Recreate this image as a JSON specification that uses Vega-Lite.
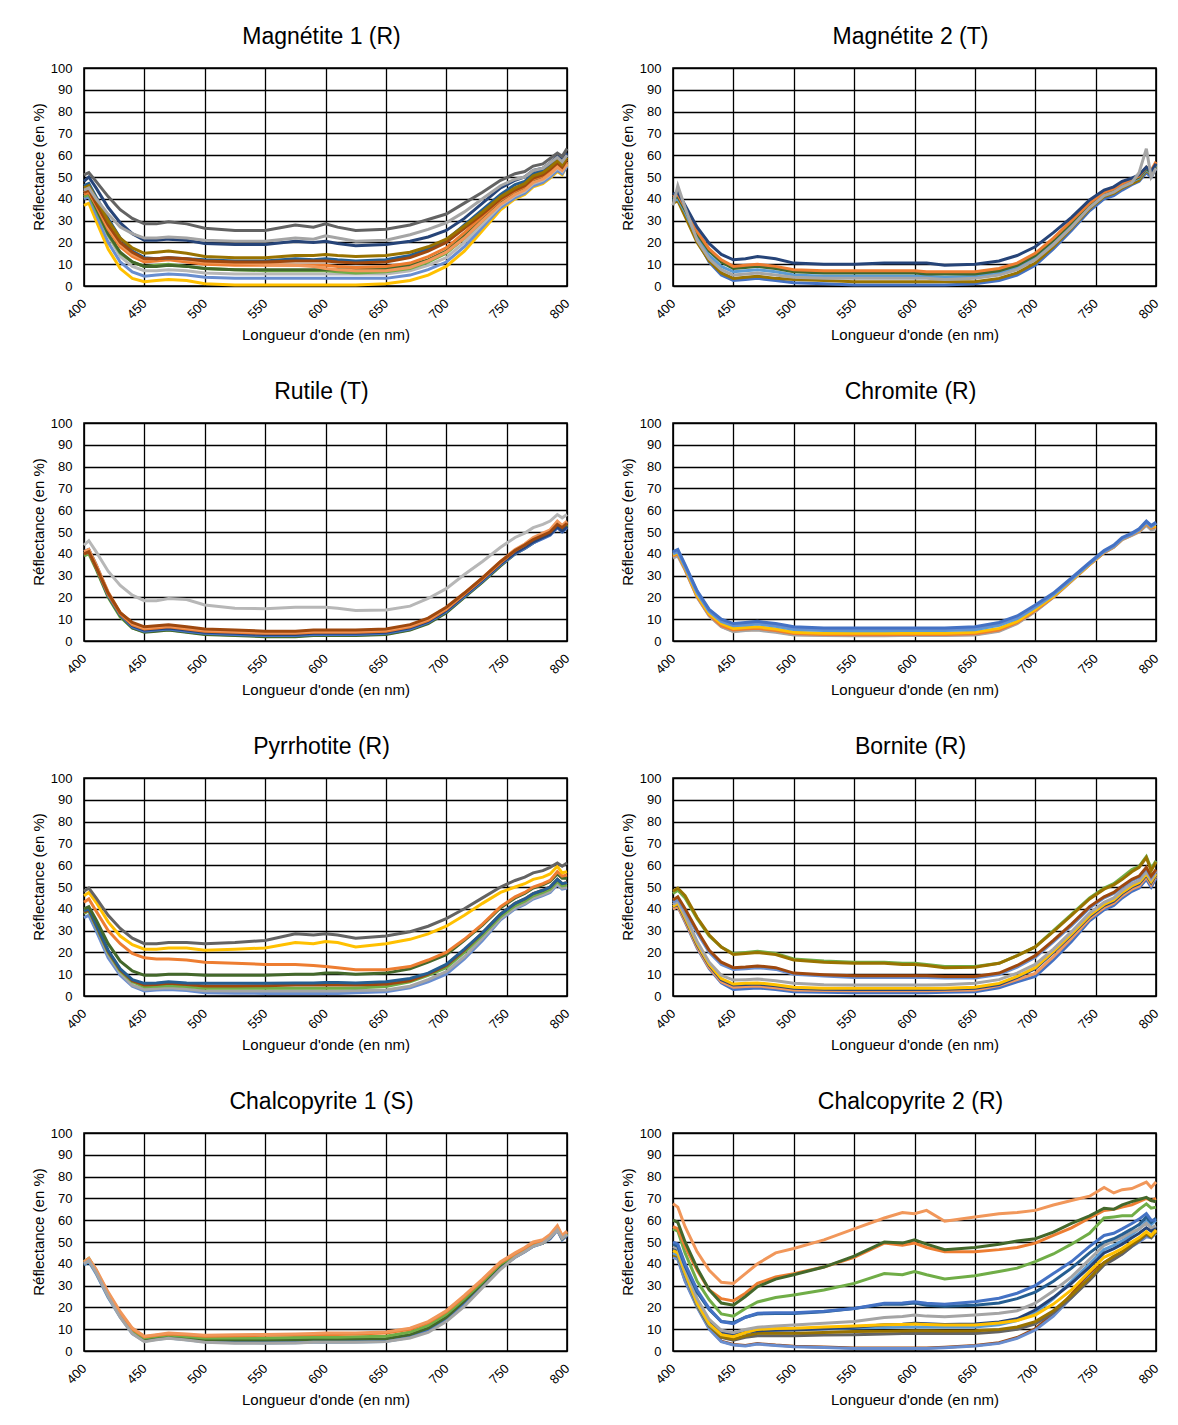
{
  "$schema": "https://vega.github.io/schema/vega-lite/v6.json",
  "background": "white",
  "bounds": "flush",
  "padding": {"left": 30, "top": 25, "right": 16, "bottom": 5},
  "columns": 2,
  "spacing": {"row": 137, "column": 106},
  "config": {
    "font": "Liberation Sans",
    "view": {"continuousWidth": 483, "continuousHeight": 218, "stroke": "#000", "strokeWidth": 1.6},
    "axis": {"grid": true, "gridColor": "#000", "gridWidth": 1.3, "gridOpacity": 1, "domain": false, "ticks": false, "labelFont": "Liberation Sans", "labelFontSize": 13, "labelColor": "#000", "titleFont": "Liberation Sans", "titleFontSize": 15, "titleFontWeight": "normal", "titleColor": "#000", "labelFlush": false, "labelOverlap": false},
    "axisX": {"labelAngle": -45, "labelAlign": "right", "labelBaseline": "middle", "labelPadding": 15, "titlePadding": 6},
    "axisY": {"labelPadding": 12, "titlePadding": 4, "titleY": 98.5},
    "title": {"fontSize": 23, "fontWeight": "normal", "font": "Liberation Sans", "color": "#000", "anchor": "middle", "frame": "group", "offset": 13, "baseline": "alphabetic", "dx": -4},
    "line": {"strokeWidth": 3, "clip": true}
  },
  "datasets": {
    "magnetite1": [
      {"wl":400,"S9":51,"S3":44,"S7":48,"S10":45,"S8":43,"S11":46,"S14":43,"S2":42,"S12":42,"S6":41,"S15":43,"S13":40,"S4":37},
      {"wl":404,"S9":52,"S3":45,"S7":50,"S10":46,"S8":44,"S11":47,"S14":44,"S2":43,"S12":43,"S6":42,"S15":44,"S13":41,"S4":38},
      {"wl":410,"S9":48,"S3":40,"S7":45,"S10":40,"S8":38,"S11":41,"S14":38,"S2":37,"S12":36,"S6":35,"S15":36,"S13":33,"S4":30},
      {"wl":420,"S9":41,"S3":33,"S7":36,"S10":30,"S8":28,"S11":31,"S14":27,"S2":26,"S12":24,"S6":23.5,"S15":23,"S13":20,"S4":17},
      {"wl":430,"S9":35,"S3":27,"S7":29,"S10":22,"S8":20,"S11":22,"S14":19,"S2":18,"S12":15.5,"S6":15,"S15":13.5,"S13":11,"S4":8},
      {"wl":440,"S9":31,"S3":24,"S7":24,"S10":17.5,"S8":15.5,"S11":16,"S14":14.5,"S2":13.5,"S12":11,"S6":11,"S15":9,"S13":6.5,"S4":3.5},
      {"wl":450,"S9":28.5,"S3":22,"S7":21,"S10":15,"S8":12.5,"S11":13,"S14":12,"S2":11,"S12":9,"S6":9,"S15":7,"S13":4.5,"S4":2},
      {"wl":460,"S9":28.5,"S3":22,"S7":21,"S10":15.5,"S8":12.5,"S11":12.5,"S14":12.5,"S2":11.5,"S12":9,"S6":9.5,"S15":7,"S13":5,"S4":2.5},
      {"wl":470,"S9":29.5,"S3":22.5,"S7":21.5,"S10":16,"S8":13,"S11":13,"S14":13,"S2":12,"S12":9.5,"S6":10,"S15":7.5,"S13":5.5,"S4":3},
      {"wl":485,"S9":28.5,"S3":22,"S7":21,"S10":15,"S8":12.5,"S11":12.5,"S14":12,"S2":11,"S12":9,"S6":9,"S15":7,"S13":5,"S4":2.5},
      {"wl":500,"S9":26.5,"S3":21,"S7":19.5,"S10":13.5,"S8":11.5,"S11":12,"S14":11,"S2":10,"S12":8,"S6":8,"S15":6,"S13":4,"S4":1},
      {"wl":525,"S9":25.5,"S3":20.5,"S7":19,"S10":13,"S8":11,"S11":11.5,"S14":10.5,"S2":9.5,"S12":7.5,"S6":7.5,"S15":5.5,"S13":3.5,"S4":0.5},
      {"wl":550,"S9":25.5,"S3":20.5,"S7":19,"S10":13,"S8":11,"S11":11.5,"S14":10,"S2":9.5,"S12":7.5,"S6":7,"S15":5.5,"S13":3.5,"S4":0.5},
      {"wl":575,"S9":28,"S3":22,"S7":20.5,"S10":14,"S8":11.5,"S11":12.5,"S14":9.5,"S2":9.5,"S12":7.5,"S6":7,"S15":5.5,"S13":3.5,"S4":0.5},
      {"wl":590,"S9":27,"S3":21.5,"S7":20,"S10":14,"S8":11.5,"S11":12,"S14":9,"S2":9.5,"S12":7.5,"S6":7,"S15":5.5,"S13":3.5,"S4":0.5},
      {"wl":600,"S9":28.5,"S3":23,"S7":20.5,"S10":14.5,"S8":11.5,"S11":12.5,"S14":8,"S2":9.5,"S12":7.5,"S6":7,"S15":5.5,"S13":3.5,"S4":0.5},
      {"wl":610,"S9":27,"S3":22,"S7":19.5,"S10":14,"S8":11,"S11":12,"S14":7.5,"S2":9,"S12":7.5,"S6":6.5,"S15":5.5,"S13":3.5,"S4":0.5},
      {"wl":625,"S9":25.5,"S3":20.5,"S7":18.5,"S10":13.5,"S8":10.5,"S11":11.5,"S14":7,"S2":8.5,"S12":7.5,"S6":6,"S15":5.5,"S13":3.5,"S4":0.5},
      {"wl":650,"S9":26,"S3":21,"S7":19,"S10":14,"S8":11,"S11":12,"S14":7,"S2":9,"S12":8,"S6":6.5,"S15":5.5,"S13":3.5,"S4":1},
      {"wl":670,"S9":28,"S3":23.5,"S7":20.5,"S10":15.5,"S8":13,"S11":14,"S14":8.5,"S2":10.5,"S12":9.5,"S6":8,"S15":7,"S13":5,"S4":2.5},
      {"wl":685,"S9":30.5,"S3":26,"S7":22.5,"S10":18,"S8":16,"S11":17,"S14":11.5,"S2":13.5,"S12":12,"S6":11,"S15":9.5,"S13":7.5,"S4":5},
      {"wl":700,"S9":33,"S3":29,"S7":25.5,"S10":21.5,"S8":20,"S11":21,"S14":15.5,"S2":17.5,"S12":16,"S6":15,"S15":13,"S13":11,"S4":9},
      {"wl":715,"S9":38,"S3":34,"S7":31,"S10":27.5,"S8":26.5,"S11":28,"S14":22,"S2":24.5,"S12":23,"S6":22,"S15":20,"S13":18,"S4":16},
      {"wl":730,"S9":43,"S3":40,"S7":38,"S10":34,"S8":33,"S11":35,"S14":30,"S2":32,"S12":31,"S6":30,"S15":28.5,"S13":27,"S4":25.5},
      {"wl":745,"S9":48.5,"S3":46,"S7":45,"S10":41,"S8":40,"S11":42,"S14":37.5,"S2":39.5,"S12":38.5,"S6":38,"S15":37,"S13":36,"S4":35},
      {"wl":757,"S9":51.5,"S3":49,"S7":48.5,"S10":45,"S8":44,"S11":46.5,"S14":42,"S2":43.5,"S12":43,"S6":42.5,"S15":41.5,"S13":40.5,"S4":40},
      {"wl":765,"S9":52.5,"S3":50,"S7":50,"S10":47,"S8":46,"S11":48,"S14":44,"S2":45.5,"S12":45,"S6":44.5,"S15":43.5,"S13":42.5,"S4":42},
      {"wl":772,"S9":55,"S3":53,"S7":53,"S10":50.5,"S8":49.5,"S11":51.5,"S14":47.5,"S2":49,"S12":48.5,"S6":48,"S15":47,"S13":46,"S4":45.5},
      {"wl":780,"S9":56,"S3":54,"S7":54,"S10":52,"S8":51,"S11":53,"S14":49,"S2":50.5,"S12":50,"S6":49.5,"S15":48.5,"S13":47.5,"S4":47},
      {"wl":786,"S9":58.5,"S3":56.5,"S7":56.5,"S10":54.5,"S8":53.5,"S11":55.5,"S14":51.5,"S2":53,"S12":52.5,"S6":52,"S15":51,"S13":50,"S4":49.5},
      {"wl":792,"S9":61,"S3":59,"S7":59.5,"S10":57.5,"S8":56.5,"S11":58.5,"S14":54.5,"S2":56,"S12":55.5,"S6":55,"S15":54,"S13":53,"S4":52.5},
      {"wl":796,"S9":59.5,"S3":57,"S7":58,"S10":55.5,"S8":54.5,"S11":56.5,"S14":53,"S2":54,"S12":54,"S6":53.5,"S15":52.5,"S13":51.5,"S4":51},
      {"wl":800,"S9":63,"S3":60,"S7":61,"S10":59,"S8":58,"S11":60,"S14":56,"S2":57,"S12":57,"S6":56.5,"S15":56,"S13":55,"S4":55.5}
    ],
    "magnetite2": [
      {"wl":400,"S7":42,"S2":41,"S12":40,"S5":39,"S3":37,"S10":38,"S1":40},
      {"wl":404,"S7":43,"S2":42,"S12":41,"S5":40,"S3":46,"S10":39,"S1":41},
      {"wl":410,"S7":37,"S2":36,"S12":35,"S5":34,"S3":36,"S10":32,"S1":34},
      {"wl":420,"S7":27,"S2":25,"S12":24,"S5":22,"S3":21,"S10":20,"S1":21},
      {"wl":430,"S7":19.5,"S2":17,"S12":16,"S5":14,"S3":12.5,"S10":11.5,"S1":11},
      {"wl":440,"S7":14.5,"S2":12,"S12":11,"S5":9,"S3":7.5,"S10":6,"S1":5},
      {"wl":450,"S7":12,"S2":9,"S12":8,"S5":6.5,"S3":5,"S10":3.5,"S1":2.5},
      {"wl":460,"S7":12.5,"S2":9.5,"S12":8.5,"S5":7,"S3":5.5,"S10":4,"S1":3},
      {"wl":470,"S7":13.5,"S2":10,"S12":9,"S5":7.5,"S3":6,"S10":4.5,"S1":3.5},
      {"wl":485,"S7":12.5,"S2":9,"S12":8,"S5":6.5,"S3":5,"S10":3.5,"S1":2.5},
      {"wl":500,"S7":10.5,"S2":7.5,"S12":6.5,"S5":5,"S3":4,"S10":3,"S1":1.5},
      {"wl":525,"S7":10,"S2":7,"S12":6,"S5":4.5,"S3":3.5,"S10":2.5,"S1":1},
      {"wl":550,"S7":10,"S2":7,"S12":6,"S5":4.5,"S3":3.5,"S10":2,"S1":0.5},
      {"wl":575,"S7":10.5,"S2":7,"S12":6,"S5":4.5,"S3":3.5,"S10":2,"S1":0.5},
      {"wl":590,"S7":10.5,"S2":7,"S12":6,"S5":4.5,"S3":3.5,"S10":2,"S1":0.5},
      {"wl":600,"S7":10.5,"S2":7,"S12":6,"S5":4.5,"S3":3.5,"S10":2,"S1":0.5},
      {"wl":610,"S7":10.5,"S2":6.5,"S12":5.5,"S5":4.5,"S3":3.5,"S10":2,"S1":0.5},
      {"wl":625,"S7":9.5,"S2":6.5,"S12":5.5,"S5":4,"S3":3,"S10":2,"S1":0.5},
      {"wl":650,"S7":10,"S2":6.5,"S12":5.5,"S5":4.5,"S3":3.5,"S10":2,"S1":1},
      {"wl":670,"S7":11.5,"S2":8,"S12":7,"S5":6,"S3":5,"S10":3.5,"S1":2.5},
      {"wl":685,"S7":14,"S2":10.5,"S12":9.5,"S5":8.5,"S3":7.5,"S10":6,"S1":5},
      {"wl":700,"S7":18,"S2":15,"S12":14,"S5":13,"S3":12,"S10":10.5,"S1":9.5},
      {"wl":715,"S7":24.5,"S2":22,"S12":21,"S5":20,"S3":19,"S10":18,"S1":17},
      {"wl":730,"S7":31.5,"S2":30,"S12":29,"S5":28,"S3":27,"S10":26.5,"S1":25.5},
      {"wl":745,"S7":39.5,"S2":38,"S12":37.5,"S5":37,"S3":36,"S10":35.5,"S1":34.5},
      {"wl":757,"S7":44,"S2":43,"S12":42.5,"S5":42,"S3":41.5,"S10":41,"S1":40},
      {"wl":765,"S7":45.5,"S2":44.5,"S12":44,"S5":43.5,"S3":43,"S10":42.5,"S1":41.5},
      {"wl":772,"S7":48,"S2":47,"S12":46.5,"S5":46,"S3":45.5,"S10":45,"S1":44},
      {"wl":780,"S7":49.5,"S2":49,"S12":48.5,"S5":48,"S3":47.5,"S10":47,"S1":46.5},
      {"wl":786,"S7":51,"S2":50.5,"S12":50,"S5":49.5,"S3":52,"S10":48.5,"S1":48},
      {"wl":792,"S7":54.5,"S2":54.5,"S12":54,"S5":53.5,"S3":63,"S10":53,"S1":52},
      {"wl":796,"S7":52.5,"S2":53,"S12":52,"S5":51.5,"S3":50,"S10":51,"S1":50},
      {"wl":800,"S7":56,"S2":57,"S12":56,"S5":55.5,"S3":54,"S10":55,"S1":54}
    ],
    "rutile": [
      {"wl":400,"S15":44,"S8":40,"S14":41,"S2":40,"S7":41,"S1":40,"S12":40,"S6":39},
      {"wl":404,"S15":46,"S8":41,"S14":42,"S2":41,"S7":42,"S1":41,"S12":41,"S6":40},
      {"wl":410,"S15":41,"S8":34,"S14":35,"S2":34,"S7":35,"S1":34,"S12":33.5,"S6":33},
      {"wl":420,"S15":32,"S8":22,"S14":22.5,"S2":21.5,"S7":22,"S1":21,"S12":20.5,"S6":20},
      {"wl":430,"S15":25.5,"S8":13,"S14":13,"S2":12.5,"S7":12.5,"S1":12,"S12":11.5,"S6":11},
      {"wl":440,"S15":21,"S8":8.5,"S14":8,"S2":7.5,"S7":7,"S1":6.5,"S12":6,"S6":6},
      {"wl":450,"S15":18.5,"S8":6.5,"S14":6,"S2":5.5,"S7":5,"S1":4.5,"S12":4,"S6":4.2},
      {"wl":460,"S15":18.5,"S8":7,"S14":6.5,"S2":6,"S7":5.5,"S1":5,"S12":4.5,"S6":4.8},
      {"wl":470,"S15":19.5,"S8":7.5,"S14":7,"S2":6.5,"S7":6,"S1":5.5,"S12":5,"S6":5.2},
      {"wl":485,"S15":19,"S8":6.5,"S14":6,"S2":5.5,"S7":5,"S1":4.5,"S12":4,"S6":4.2},
      {"wl":500,"S15":16.5,"S8":5.5,"S14":5,"S2":4.5,"S7":4,"S1":3.5,"S12":3,"S6":3.2},
      {"wl":525,"S15":15,"S8":5,"S14":4.5,"S2":4,"S7":3.5,"S1":3,"S12":2.5,"S6":2.7},
      {"wl":550,"S15":14.8,"S8":4.5,"S14":4,"S2":3.5,"S7":3,"S1":2.5,"S12":2,"S6":2.3},
      {"wl":575,"S15":15.5,"S8":4.5,"S14":4,"S2":3.5,"S7":3,"S1":2.5,"S12":2,"S6":2.3},
      {"wl":590,"S15":15.5,"S8":5,"S14":4.5,"S2":4,"S7":3.5,"S1":3,"S12":2.5,"S6":2.7},
      {"wl":600,"S15":15.5,"S8":5,"S14":4.5,"S2":4,"S7":3.5,"S1":3,"S12":2.5,"S6":2.7},
      {"wl":610,"S15":15,"S8":5,"S14":4.5,"S2":4,"S7":3.5,"S1":3,"S12":2.5,"S6":2.7},
      {"wl":625,"S15":14,"S8":5,"S14":4.5,"S2":4,"S7":3.5,"S1":3,"S12":2.5,"S6":2.7},
      {"wl":650,"S15":14.2,"S8":5.5,"S14":5,"S2":4.5,"S7":4,"S1":3.5,"S12":3,"S6":3.2},
      {"wl":670,"S15":16,"S8":7.5,"S14":7,"S2":6.5,"S7":6,"S1":5.5,"S12":5,"S6":5.2},
      {"wl":685,"S15":19.5,"S8":10.5,"S14":10,"S2":9.5,"S7":9,"S1":8.5,"S12":8,"S6":8.3},
      {"wl":700,"S15":24,"S8":15.5,"S14":15,"S2":14.5,"S7":14,"S1":13.5,"S12":13,"S6":13.2},
      {"wl":715,"S15":30.5,"S8":22,"S14":22,"S2":21.5,"S7":21,"S1":20.5,"S12":20,"S6":20.2},
      {"wl":730,"S15":36.5,"S8":29,"S14":29,"S2":28.5,"S7":28,"S1":27.5,"S12":27,"S6":27.2},
      {"wl":745,"S15":43,"S8":36.5,"S14":36.5,"S2":36,"S7":35.5,"S1":35,"S12":34.5,"S6":34.8},
      {"wl":757,"S15":47.5,"S8":41.5,"S14":42,"S2":41.5,"S7":40.5,"S1":40,"S12":40,"S6":40.2},
      {"wl":765,"S15":49.5,"S8":44,"S14":44.5,"S2":44,"S7":43,"S1":42.5,"S12":42.5,"S6":42.8},
      {"wl":772,"S15":52,"S8":46.5,"S14":47.5,"S2":47,"S7":45.5,"S1":45,"S12":45,"S6":45.3},
      {"wl":780,"S15":53.5,"S8":48.5,"S14":49.5,"S2":49,"S7":47.5,"S1":47,"S12":47.5,"S6":47.7},
      {"wl":786,"S15":55,"S8":50,"S14":51,"S2":50.5,"S7":49,"S1":48.5,"S12":49,"S6":49.2},
      {"wl":792,"S15":58,"S8":53.5,"S14":55,"S2":54.5,"S7":52.5,"S1":52,"S12":52.5,"S6":52.8},
      {"wl":796,"S15":56.5,"S8":52,"S14":53,"S2":52.5,"S7":50.5,"S1":50,"S12":50.5,"S6":50.8},
      {"wl":800,"S15":58,"S8":54,"S14":55,"S2":54.5,"S7":52.5,"S1":52,"S12":53,"S6":53.3}
    ],
    "chromite": [
      {"wl":400,"S1":41,"S13":40.5,"S5":40,"S4":39.5,"S2":39,"S3":38,"S14":38.5},
      {"wl":404,"S1":42,"S13":41.5,"S5":41,"S4":40.5,"S2":40,"S3":39,"S14":39.5},
      {"wl":410,"S1":35,"S13":34.5,"S5":34,"S4":33.5,"S2":33,"S3":32.5,"S14":33},
      {"wl":420,"S1":23,"S13":22.5,"S5":22,"S4":21,"S2":20.5,"S3":20,"S14":20.2},
      {"wl":430,"S1":14.5,"S13":14,"S5":13.5,"S4":12.5,"S2":12,"S3":11.5,"S14":11.7},
      {"wl":440,"S1":10,"S13":9.5,"S5":9,"S4":8,"S2":7,"S3":6.5,"S14":6.7},
      {"wl":450,"S1":8,"S13":7.5,"S5":7,"S4":5.8,"S2":5,"S3":4.3,"S14":4.5},
      {"wl":460,"S1":8.5,"S13":8,"S5":7.3,"S4":6.2,"S2":5.5,"S3":4.8,"S14":5},
      {"wl":470,"S1":9,"S13":8.5,"S5":7.8,"S4":6.5,"S2":5.8,"S3":5,"S14":5.3},
      {"wl":485,"S1":8,"S13":7.5,"S5":6.8,"S4":5.5,"S2":4.8,"S3":4,"S14":4.3},
      {"wl":500,"S1":6.5,"S13":6,"S5":5.3,"S4":4,"S2":3.4,"S3":2.8,"S14":3},
      {"wl":525,"S1":6,"S13":5.5,"S5":4.8,"S4":3.6,"S2":3,"S3":2.5,"S14":2.7},
      {"wl":550,"S1":6,"S13":5.5,"S5":4.7,"S4":3.5,"S2":2.9,"S3":2.4,"S14":2.6},
      {"wl":575,"S1":6,"S13":5.5,"S5":4.7,"S4":3.5,"S2":2.9,"S3":2.4,"S14":2.6},
      {"wl":590,"S1":6,"S13":5.5,"S5":4.8,"S4":3.6,"S2":3,"S3":2.5,"S14":2.7},
      {"wl":600,"S1":6,"S13":5.5,"S5":4.8,"S4":3.6,"S2":3,"S3":2.5,"S14":2.7},
      {"wl":610,"S1":6,"S13":5.5,"S5":4.8,"S4":3.6,"S2":3,"S3":2.5,"S14":2.7},
      {"wl":625,"S1":6,"S13":5.5,"S5":4.8,"S4":3.6,"S2":3,"S3":2.5,"S14":2.7},
      {"wl":650,"S1":6.5,"S13":6,"S5":5.2,"S4":4,"S2":3.3,"S3":2.8,"S14":3},
      {"wl":670,"S1":8.5,"S13":8,"S5":7.2,"S4":5.8,"S2":5,"S3":4.5,"S14":4.8},
      {"wl":685,"S1":11.5,"S13":11,"S5":10.3,"S4":9,"S2":8.5,"S3":8,"S14":8.2},
      {"wl":700,"S1":16.5,"S13":16,"S5":15.5,"S4":14.5,"S2":14,"S3":13.5,"S14":13.7},
      {"wl":715,"S1":22,"S13":21.5,"S5":21.2,"S4":20.5,"S2":20.3,"S3":20,"S14":20.1},
      {"wl":730,"S1":29,"S13":28.5,"S5":28.2,"S4":27.8,"S2":27.7,"S3":27.5,"S14":27.6},
      {"wl":745,"S1":36,"S13":35.5,"S5":35.5,"S4":35.2,"S2":35,"S3":35,"S14":35},
      {"wl":757,"S1":41.5,"S13":41,"S5":41,"S4":40.8,"S2":40.6,"S3":40.5,"S14":40.5},
      {"wl":765,"S1":44,"S13":43.5,"S5":43.5,"S4":43.3,"S2":43.2,"S3":43,"S14":43},
      {"wl":772,"S1":47.5,"S13":47,"S5":47,"S4":46.8,"S2":46.7,"S3":46.5,"S14":46.5},
      {"wl":780,"S1":49.5,"S13":49,"S5":49,"S4":49,"S2":48.8,"S3":48.5,"S14":48.5},
      {"wl":786,"S1":51.5,"S13":51,"S5":51,"S4":50.8,"S2":50.5,"S3":50,"S14":50.2},
      {"wl":792,"S1":55,"S13":54.5,"S5":54.5,"S4":54.3,"S2":53.8,"S3":53,"S14":53.5},
      {"wl":796,"S1":53,"S13":52.5,"S5":52.5,"S4":52.3,"S2":51.8,"S3":51,"S14":51.5},
      {"wl":800,"S1":54.5,"S13":54,"S5":54,"S4":53,"S2":52.5,"S3":51.5,"S14":52}
    ],
    "pyrrhotite": [
      {"wl":400,"S9":48,"S4":46,"S2":43,"S12":40,"S11":39,"S8":38.5,"S6":38,"S3":38,"S13":36},
      {"wl":404,"S9":49.5,"S4":47.5,"S2":44.5,"S12":41,"S11":40,"S8":39.5,"S6":39,"S3":39,"S13":37},
      {"wl":410,"S9":45,"S4":43,"S2":39,"S12":35,"S11":33,"S8":32.5,"S6":32,"S3":32,"S13":30},
      {"wl":420,"S9":37,"S4":34,"S2":30,"S12":24,"S11":21,"S8":20.5,"S6":20,"S3":19,"S13":17.5},
      {"wl":430,"S9":31,"S4":27.5,"S2":24,"S12":16,"S11":12.5,"S8":12,"S6":11.5,"S3":10.5,"S13":9.5},
      {"wl":440,"S9":26.5,"S4":23.5,"S2":19.5,"S12":11.5,"S11":7.5,"S8":7,"S6":6.5,"S3":5,"S13":4.5},
      {"wl":450,"S9":24,"S4":21.5,"S2":17.5,"S12":9.5,"S11":5.8,"S8":5,"S6":4.3,"S3":3,"S13":2.3},
      {"wl":460,"S9":24,"S4":21.5,"S2":17,"S12":9.5,"S11":6,"S8":5.3,"S6":4.5,"S3":3.4,"S13":2.7},
      {"wl":470,"S9":24.5,"S4":22,"S2":17,"S12":10,"S11":6.5,"S8":5.8,"S6":4.8,"S3":3.8,"S13":3},
      {"wl":485,"S9":24.5,"S4":22,"S2":16.5,"S12":10,"S11":6,"S8":5.3,"S6":4.3,"S3":3.2,"S13":2.5},
      {"wl":500,"S9":24,"S4":21,"S2":15.5,"S12":9.5,"S11":5.8,"S8":4.6,"S6":3.5,"S3":2.4,"S13":1.5},
      {"wl":525,"S9":24.5,"S4":21.5,"S2":15,"S12":9.5,"S11":5.8,"S8":4.6,"S6":3.5,"S3":2.3,"S13":1.3},
      {"wl":550,"S9":25.5,"S4":22,"S2":14.5,"S12":9.5,"S11":5.8,"S8":4.7,"S6":3.5,"S3":2.3,"S13":1.2},
      {"wl":575,"S9":28.5,"S4":24.5,"S2":14.5,"S12":10,"S11":6,"S8":5,"S6":3.5,"S3":2.3,"S13":1.2},
      {"wl":590,"S9":28,"S4":24,"S2":14,"S12":10,"S11":6,"S8":5,"S6":3.5,"S3":2.3,"S13":1.2},
      {"wl":600,"S9":28.5,"S4":25,"S2":13.5,"S12":10.5,"S11":6.2,"S8":5,"S6":3.5,"S3":2.3,"S13":1.2},
      {"wl":610,"S9":28,"S4":24.5,"S2":13,"S12":10.5,"S11":6.2,"S8":5,"S6":3.5,"S3":2.3,"S13":1.2},
      {"wl":625,"S9":26.5,"S4":22.5,"S2":12,"S12":10,"S11":6,"S8":5,"S6":3.7,"S3":2.5,"S13":1.5},
      {"wl":650,"S9":27.5,"S4":24,"S2":12,"S12":10.5,"S11":6.5,"S8":5.4,"S6":4.3,"S3":2.8,"S13":2},
      {"wl":670,"S9":29.5,"S4":26,"S2":13.5,"S12":12.5,"S11":8,"S8":7,"S6":6.5,"S3":4.5,"S13":3.8},
      {"wl":685,"S9":32,"S4":28.5,"S2":16.5,"S12":15.5,"S11":10.5,"S8":10,"S6":9.5,"S3":7.5,"S13":6.5},
      {"wl":700,"S9":35.5,"S4":32,"S2":20,"S12":19,"S11":14.5,"S8":14,"S6":13,"S3":11.2,"S13":10},
      {"wl":715,"S9":40,"S4":37,"S2":26,"S12":25.5,"S11":21.5,"S8":21,"S6":20,"S3":18,"S13":17},
      {"wl":730,"S9":45,"S4":42.5,"S2":33,"S12":32.5,"S11":29,"S8":29,"S6":28,"S3":26.5,"S13":25.5},
      {"wl":745,"S9":50,"S4":47.5,"S2":41,"S12":40.5,"S11":37.5,"S8":37.5,"S6":36.5,"S3":35.5,"S13":35},
      {"wl":757,"S9":53,"S4":50,"S2":45.5,"S12":45,"S11":42.5,"S8":42.5,"S6":41.5,"S3":40.5,"S13":40},
      {"wl":765,"S9":54.5,"S4":51.5,"S2":47.5,"S12":47,"S11":44.5,"S8":44.5,"S6":43.5,"S3":42.5,"S13":42},
      {"wl":772,"S9":56.5,"S4":53.5,"S2":50,"S12":49.5,"S11":47,"S8":47,"S6":46,"S3":45,"S13":44.5},
      {"wl":780,"S9":57.5,"S4":54.5,"S2":51.5,"S12":51,"S11":48.5,"S8":48.5,"S6":47.5,"S3":46.5,"S13":46},
      {"wl":786,"S9":59,"S4":56,"S2":53,"S12":52.5,"S11":50,"S8":50,"S6":49,"S3":48,"S13":47.5},
      {"wl":792,"S9":61,"S4":59.5,"S2":57,"S12":56,"S11":53.5,"S8":53.5,"S6":52.5,"S3":51.5,"S13":51},
      {"wl":796,"S9":59.5,"S4":56.5,"S2":55,"S12":54,"S11":51.5,"S8":51.5,"S6":50.5,"S3":49.5,"S13":49},
      {"wl":800,"S9":61,"S4":57,"S2":55.5,"S12":54,"S11":52,"S8":52,"S6":51,"S3":50,"S13":49.5}
    ],
    "bornite": [
      {"wl":400,"S10":48,"S6":47,"S8":44,"S13":43,"S3":42,"S4":41,"S7":41,"S14":40,"S1":40},
      {"wl":404,"S10":49.5,"S6":48.5,"S8":45.5,"S13":44.5,"S3":43.5,"S4":42.5,"S7":42,"S14":41,"S1":41},
      {"wl":410,"S10":46,"S6":45,"S8":40,"S13":39,"S3":37,"S4":36,"S7":35.5,"S14":34.5,"S1":34},
      {"wl":420,"S10":36,"S6":35.5,"S8":30,"S13":29,"S3":25,"S4":24,"S7":23.5,"S14":22.5,"S1":22},
      {"wl":430,"S10":28,"S6":27.5,"S8":21,"S13":20,"S3":15.5,"S4":14.5,"S7":14,"S14":13,"S1":12.5},
      {"wl":440,"S10":22.5,"S6":22.5,"S8":15.5,"S13":14.5,"S3":9.5,"S4":8,"S7":7.5,"S14":6.5,"S1":6},
      {"wl":450,"S10":19,"S6":19.5,"S8":13,"S13":12.2,"S3":7.3,"S4":5.5,"S7":5,"S14":4,"S1":3},
      {"wl":460,"S10":19.5,"S6":20,"S8":13.3,"S13":12.5,"S3":7.5,"S4":5.8,"S7":5.3,"S14":4.3,"S1":3.3},
      {"wl":470,"S10":20,"S6":20.5,"S8":13.8,"S13":13,"S3":7.8,"S4":6,"S7":5.5,"S14":4.6,"S1":3.7},
      {"wl":485,"S10":19,"S6":19.5,"S8":13,"S13":12.2,"S3":7,"S4":5.2,"S7":4.7,"S14":3.8,"S1":3},
      {"wl":500,"S10":16.5,"S6":17,"S8":10.5,"S13":10,"S3":5.8,"S4":4,"S7":3.5,"S14":2.8,"S1":2},
      {"wl":525,"S10":15.5,"S6":16,"S8":9.8,"S13":9.2,"S3":5.2,"S4":3.6,"S7":3.1,"S14":2.5,"S1":1.7},
      {"wl":550,"S10":15,"S6":15.5,"S8":9.3,"S13":8.5,"S3":5,"S4":3.5,"S7":3,"S14":2.4,"S1":1.5},
      {"wl":575,"S10":15,"S6":15.5,"S8":9.3,"S13":8.5,"S3":5,"S4":3.5,"S7":3,"S14":2.4,"S1":1.5},
      {"wl":590,"S10":14.5,"S6":15,"S8":9.3,"S13":8.5,"S3":5,"S4":3.5,"S7":3,"S14":2.4,"S1":1.5},
      {"wl":600,"S10":14.5,"S6":15,"S8":9.3,"S13":8.5,"S3":5,"S4":3.5,"S7":3,"S14":2.4,"S1":1.5},
      {"wl":610,"S10":14,"S6":14.5,"S8":9.3,"S13":8.5,"S3":5,"S4":3.5,"S7":3,"S14":2.4,"S1":1.5},
      {"wl":625,"S10":13,"S6":13.5,"S8":9,"S13":8.3,"S3":5.2,"S4":3.6,"S7":3.1,"S14":2.5,"S1":1.7},
      {"wl":650,"S10":13.2,"S6":13.5,"S8":9,"S13":8.3,"S3":5.8,"S4":4,"S7":3.5,"S14":2.8,"S1":2},
      {"wl":670,"S10":15,"S6":15,"S8":10.5,"S13":9.8,"S3":7.5,"S4":5.8,"S7":5.3,"S14":4.8,"S1":3.8},
      {"wl":685,"S10":18.5,"S6":18.5,"S8":14,"S13":13.2,"S3":10.5,"S4":9,"S7":8.5,"S14":7.5,"S1":6.5},
      {"wl":700,"S10":22.5,"S6":22.5,"S8":18.5,"S13":17.8,"S3":14.5,"S4":13,"S7":12.5,"S14":10.4,"S1":9},
      {"wl":715,"S10":29.5,"S6":30,"S8":25.5,"S13":24.8,"S3":21.5,"S4":20.5,"S7":20,"S14":18,"S1":16.5},
      {"wl":730,"S10":37,"S6":37.5,"S8":33,"S13":32.3,"S3":29.5,"S4":28.5,"S7":28,"S14":26.5,"S1":25},
      {"wl":745,"S10":44.5,"S6":45,"S8":41,"S13":40.3,"S3":38,"S4":37,"S7":36.5,"S14":35.5,"S1":34.5},
      {"wl":757,"S10":49,"S6":49.5,"S8":45.5,"S13":45,"S3":43,"S4":42,"S7":41.5,"S14":40.5,"S1":39.5},
      {"wl":765,"S10":51,"S6":51.5,"S8":47.5,"S13":47,"S3":45,"S4":44,"S7":43.5,"S14":42.5,"S1":41.5},
      {"wl":772,"S10":53.5,"S6":54.5,"S8":50.5,"S13":50,"S3":48.5,"S4":47.5,"S7":47,"S14":46,"S1":45},
      {"wl":780,"S10":57,"S6":58,"S8":53.5,"S13":53,"S3":51.5,"S4":50.5,"S7":50,"S14":49,"S1":48},
      {"wl":786,"S10":59,"S6":59.5,"S8":55,"S13":54.5,"S3":53,"S4":52,"S7":51.5,"S14":50.5,"S1":49.5},
      {"wl":792,"S10":63.5,"S6":64,"S8":59,"S13":58.5,"S3":57,"S4":56,"S7":55.5,"S14":54.5,"S1":53.5},
      {"wl":796,"S10":57.5,"S6":58.5,"S8":55,"S13":54.5,"S3":53.5,"S4":52.5,"S7":52,"S14":51,"S1":50},
      {"wl":800,"S10":61.5,"S6":62,"S8":58,"S13":57.5,"S3":57,"S4":56,"S7":55.5,"S14":55,"S1":54}
    ],
    "chalcopyrite1": [
      {"wl":400,"S14":41,"S2":40.5,"S6":41,"S12":40.5,"S1":40,"S5":39.5,"S3":40},
      {"wl":404,"S14":42.5,"S2":42,"S6":42.5,"S12":42,"S1":41.5,"S5":41,"S3":41.5},
      {"wl":410,"S14":37.5,"S2":37,"S6":37,"S12":36.5,"S1":36,"S5":35.5,"S3":36},
      {"wl":420,"S14":27,"S2":26.5,"S6":26,"S12":25.5,"S1":25,"S5":24.5,"S3":25},
      {"wl":430,"S14":18,"S2":17.5,"S6":17,"S12":16.5,"S1":16,"S5":15.5,"S3":15.5},
      {"wl":440,"S14":10.5,"S2":10,"S6":9.5,"S12":9,"S1":8.5,"S5":8,"S3":8},
      {"wl":450,"S14":6.8,"S2":6.5,"S6":6,"S12":5.5,"S1":5,"S5":4.5,"S3":4.3},
      {"wl":460,"S14":7.5,"S2":7.2,"S6":6.8,"S12":6.3,"S1":5.8,"S5":5.4,"S3":5.2},
      {"wl":470,"S14":8.2,"S2":7.8,"S6":7.3,"S12":6.8,"S1":6.3,"S5":6,"S3":5.8},
      {"wl":485,"S14":7.8,"S2":7.4,"S6":6.6,"S12":6,"S1":5.5,"S5":5.2,"S3":5},
      {"wl":500,"S14":7.2,"S2":6.8,"S6":6,"S12":5.2,"S1":4.6,"S5":4.2,"S3":4},
      {"wl":525,"S14":7.4,"S2":7,"S6":6,"S12":5,"S1":4.3,"S5":3.8,"S3":3.6},
      {"wl":550,"S14":7.6,"S2":7.2,"S6":6,"S12":5,"S1":4.2,"S5":3.7,"S3":3.5},
      {"wl":575,"S14":7.8,"S2":7.4,"S6":6.2,"S12":5.2,"S1":4.3,"S5":3.8,"S3":3.7},
      {"wl":590,"S14":8,"S2":7.6,"S6":6.3,"S12":5.4,"S1":4.5,"S5":4,"S3":4},
      {"wl":600,"S14":8.2,"S2":7.6,"S6":6.3,"S12":5.4,"S1":4.5,"S5":4,"S3":4},
      {"wl":610,"S14":8.2,"S2":7.6,"S6":6.3,"S12":5.4,"S1":4.5,"S5":4,"S3":4},
      {"wl":625,"S14":8.3,"S2":7.8,"S6":6.5,"S12":5.5,"S1":4.6,"S5":4.1,"S3":4},
      {"wl":650,"S14":8.7,"S2":8.2,"S6":6.8,"S12":5.6,"S1":4.8,"S5":4.4,"S3":4.3},
      {"wl":670,"S14":10.5,"S2":10,"S6":8.7,"S12":7.5,"S1":6.8,"S5":6.3,"S3":6},
      {"wl":685,"S14":13.5,"S2":13,"S6":11.8,"S12":10.5,"S1":9.5,"S5":9,"S3":8.5},
      {"wl":700,"S14":18.5,"S2":18,"S6":16.8,"S12":15.5,"S1":14.5,"S5":14,"S3":13.5},
      {"wl":715,"S14":25.5,"S2":25,"S6":24,"S12":23,"S1":22,"S5":21.5,"S3":20.5},
      {"wl":730,"S14":33,"S2":32.5,"S6":31.8,"S12":31,"S1":30,"S5":29.5,"S3":29},
      {"wl":745,"S14":41,"S2":40.5,"S6":40,"S12":39.5,"S1":38.5,"S5":38,"S3":37.5},
      {"wl":757,"S14":45,"S2":44.5,"S6":44,"S12":43.5,"S1":43,"S5":43,"S3":43},
      {"wl":765,"S14":47.5,"S2":47,"S6":46.5,"S12":46,"S1":45.5,"S5":45.5,"S3":45.5},
      {"wl":772,"S14":50,"S2":49.5,"S6":49,"S12":48.5,"S1":48,"S5":48,"S3":48},
      {"wl":780,"S14":51,"S2":50.5,"S6":50,"S12":49.5,"S1":49.5,"S5":49.5,"S3":49.5},
      {"wl":786,"S14":53.5,"S2":53,"S6":52.5,"S12":52,"S1":51.5,"S5":52,"S3":52},
      {"wl":792,"S14":57.5,"S2":57,"S6":56.5,"S12":56,"S1":55.5,"S5":55.5,"S3":55.5},
      {"wl":796,"S14":53,"S2":52.5,"S6":52,"S12":51.5,"S1":51,"S5":51.5,"S3":51.5},
      {"wl":800,"S14":55,"S2":54.5,"S6":54,"S12":53.5,"S1":53,"S5":53.5,"S3":53.5}
    ],
    "chalcopyrite2": [
      {"wl":400,"S14":67.5,"S2":57,"S12":60,"S6":56,"S1":50,"S11":49,"S3":48,"S4":46,"S7":47,"S5":45,"S10":44,"S9":45,"S13":43,"S8":43.5},
      {"wl":404,"S14":66,"S2":56,"S12":59,"S6":55,"S1":49,"S11":48,"S3":47,"S4":45,"S7":46,"S5":44,"S10":43.5,"S9":44.5,"S13":42,"S8":42.5},
      {"wl":410,"S14":57,"S2":48,"S12":50,"S6":45,"S1":40,"S11":39,"S3":38,"S4":36,"S7":37,"S5":35.5,"S10":35,"S9":36,"S13":32,"S8":32.5},
      {"wl":420,"S14":45.5,"S2":37,"S12":38,"S6":32,"S1":28,"S11":27,"S3":24,"S4":22,"S7":23,"S5":21.5,"S10":21,"S9":21.5,"S13":20,"S8":20.5},
      {"wl":430,"S14":37,"S2":28,"S12":28,"S6":23.5,"S1":19.5,"S11":19,"S3":14.5,"S4":12.5,"S7":13,"S5":12,"S10":11.5,"S9":11.5,"S13":10,"S8":10.5},
      {"wl":440,"S14":31.5,"S2":24,"S12":22,"S6":17,"S1":13.5,"S11":13.5,"S3":9.5,"S4":7.5,"S7":8.3,"S5":7.5,"S10":6.5,"S9":6.2,"S13":4.3,"S8":4.5},
      {"wl":450,"S14":31,"S2":23,"S12":21,"S6":16,"S1":12.5,"S11":13,"S3":8.4,"S4":6.6,"S7":7.3,"S5":7,"S10":5.4,"S9":5,"S13":2.8,"S8":3},
      {"wl":460,"S14":35.5,"S2":26.5,"S12":25,"S6":19.5,"S1":15.5,"S11":15.5,"S3":9.9,"S4":8.5,"S7":8.5,"S5":8.5,"S10":7,"S9":6.3,"S13":2.3,"S8":2.5},
      {"wl":470,"S14":40,"S2":31,"S12":29.5,"S6":22.5,"S1":17.3,"S11":17,"S3":10.9,"S4":9.9,"S7":9.3,"S5":9.5,"S10":8.1,"S9":7,"S13":3.2,"S8":3.4},
      {"wl":485,"S14":45,"S2":34,"S12":33,"S6":24.5,"S1":17.6,"S11":17.2,"S3":11.5,"S4":10.3,"S7":9.5,"S5":9.8,"S10":8.1,"S9":7,"S13":2.5,"S8":2.7},
      {"wl":500,"S14":47,"S2":35.5,"S12":35,"S6":25.7,"S1":17.6,"S11":17.2,"S3":11.9,"S4":10.4,"S7":9.6,"S5":10,"S10":8.1,"S9":7,"S13":2,"S8":2.2},
      {"wl":525,"S14":51,"S2":38.5,"S12":38.5,"S6":28,"S1":18.2,"S11":18,"S3":12.7,"S4":11,"S7":10.2,"S5":10.2,"S10":8.5,"S9":7.3,"S13":1.6,"S8":1.8},
      {"wl":550,"S14":56,"S2":43,"S12":43.5,"S6":31,"S1":19.5,"S11":19.5,"S3":13.5,"S4":11.5,"S7":10.9,"S5":10.5,"S10":8.9,"S9":7.5,"S13":1.2,"S8":1.4},
      {"wl":575,"S14":61,"S2":49.5,"S12":50,"S6":35.5,"S1":21.9,"S11":21.5,"S3":15.4,"S4":12,"S7":12,"S5":10.8,"S10":9.1,"S9":7.8,"S13":1.2,"S8":1.4},
      {"wl":590,"S14":63.5,"S2":48.5,"S12":49.5,"S6":35,"S1":22,"S11":21.5,"S3":15.8,"S4":12.2,"S7":12.3,"S5":11,"S10":9.2,"S9":8,"S13":1.2,"S8":1.4},
      {"wl":600,"S14":63,"S2":49.5,"S12":51,"S6":36.5,"S1":22.6,"S11":22,"S3":16.5,"S4":12.4,"S7":12.7,"S5":11,"S10":9.3,"S9":8,"S13":1.2,"S8":1.4},
      {"wl":610,"S14":64.5,"S2":47.5,"S12":49,"S6":35,"S1":21.9,"S11":21,"S3":16,"S4":12.2,"S7":12.5,"S5":11,"S10":9.3,"S9":8,"S13":1.2,"S8":1.4},
      {"wl":625,"S14":59.5,"S2":45.5,"S12":46.5,"S6":33,"S1":21.5,"S11":20.5,"S3":15.7,"S4":11.9,"S7":12.2,"S5":11,"S10":9.2,"S9":8,"S13":1.5,"S8":1.7},
      {"wl":650,"S14":61.5,"S2":45.5,"S12":47.5,"S6":34.5,"S1":22.6,"S11":21,"S3":16.5,"S4":11.9,"S7":12.4,"S5":11,"S10":9.3,"S9":8,"S13":2.3,"S8":2.5},
      {"wl":670,"S14":63,"S2":46.5,"S12":49,"S6":36.5,"S1":24.2,"S11":22,"S3":17.3,"S4":12.8,"S7":13.3,"S5":12,"S10":9.9,"S9":8.8,"S13":3.5,"S8":3.8},
      {"wl":685,"S14":63.5,"S2":47.5,"S12":50.5,"S6":38,"S1":26.5,"S11":24,"S3":18.5,"S4":14,"S7":14.8,"S5":14,"S10":11,"S9":10,"S13":5.8,"S8":6.2},
      {"wl":700,"S14":64.5,"S2":49.5,"S12":51.5,"S6":41,"S1":30,"S11":27,"S3":21.9,"S4":16.5,"S7":18.8,"S5":17.5,"S10":13.5,"S9":12.5,"S13":9.6,"S8":10.2},
      {"wl":715,"S14":67,"S2":53,"S12":54.5,"S6":44.5,"S1":35.5,"S11":32,"S3":27.5,"S4":21.5,"S7":24.5,"S5":24,"S10":18.5,"S9":17.5,"S13":16,"S8":17},
      {"wl":730,"S14":69,"S2":56.5,"S12":58.5,"S6":49,"S1":41,"S11":38,"S3":34,"S4":28,"S7":31,"S5":32,"S10":25.5,"S9":24.5,"S13":24.5,"S8":26},
      {"wl":745,"S14":71,"S2":61,"S12":62,"S6":54,"S1":48,"S11":45,"S3":42,"S4":36.5,"S7":38.5,"S5":40,"S10":33.5,"S9":32.5,"S13":34,"S8":35.5},
      {"wl":757,"S14":75,"S2":64.5,"S12":65.5,"S6":61,"S1":53,"S11":50,"S3":48.5,"S4":43,"S7":45,"S5":46.5,"S10":40.5,"S9":39.5,"S13":40,"S8":40.5},
      {"wl":765,"S14":72.5,"S2":65,"S12":65,"S6":61.5,"S1":54,"S11":51.5,"S3":50.5,"S4":45,"S7":47,"S5":48.5,"S10":43.5,"S9":42,"S13":42.5,"S8":43},
      {"wl":772,"S14":74,"S2":66,"S12":67,"S6":62,"S1":56,"S11":53.5,"S3":52,"S4":47,"S7":49,"S5":50.5,"S10":45.5,"S9":44.5,"S13":44.5,"S8":45.5},
      {"wl":780,"S14":74.5,"S2":67,"S12":68.5,"S6":62,"S1":58.5,"S11":56,"S3":54.5,"S4":50,"S7":52,"S5":53.5,"S10":49,"S9":48,"S13":47.9,"S8":48.5},
      {"wl":786,"S14":76,"S2":68.5,"S12":69.5,"S6":65,"S1":60.5,"S11":58,"S3":56,"S4":52,"S7":54,"S5":56,"S10":51,"S9":50.5,"S13":50,"S8":51},
      {"wl":792,"S14":77.5,"S2":70,"S12":70.5,"S6":67.5,"S1":63,"S11":61.5,"S3":58.6,"S4":54.7,"S7":56.5,"S5":59.5,"S10":54,"S9":53.5,"S13":52.4,"S8":53.5},
      {"wl":796,"S14":75,"S2":69,"S12":69,"S6":65.5,"S1":60,"S11":59,"S3":56.5,"S4":53,"S7":55,"S5":58,"S10":52.5,"S9":52,"S13":52,"S8":52.5},
      {"wl":800,"S14":77.5,"S2":70,"S12":68.5,"S6":66,"S1":60,"S11":61,"S3":57.5,"S4":55.5,"S7":57,"S5":60,"S10":54.7,"S9":55,"S13":54,"S8":55.5}
    ]
  },
  "concat": [
    {
      "title": "Magnétite 1 (R)",
      "data": {"name": "magnetite1"},
      "transform": [{"fold": ["S4","S13","S15","S6","S12","S2","S14","S11","S8","S10","S7","S3","S9"], "as": ["serie", "reflectance"]}],
      "mark": "line",
      "encoding": {
        "x": {"field": "wl", "type": "quantitative", "scale": {"domain": [400, 800], "nice": false, "zero": false}, "axis": {"values": [400,450,500,550,600,650,700,750,800], "title": "Longueur d'onde (en nm)"}},
        "y": {"field": "reflectance", "type": "quantitative", "scale": {"domain": [0, 100], "nice": false}, "axis": {"values": [0,10,20,30,40,50,60,70,80,90,100], "title": "Réflectance (en %)"}},
        "color": {"field": "serie", "type": "nominal", "legend": null, "scale": {"domain": ["S1","S2","S3","S4","S5","S6","S7","S8","S9","S10","S11","S12","S13","S14","S15"], "range": ["#4472C4","#ED7D31","#A5A5A5","#FFC000","#5B9BD5","#70AD47","#264478","#9E480E","#636363","#997300","#255E91","#43682B","#698ED0","#F1975A","#B7B7B7"]}}
      }
    },
    {
      "title": "Magnétite 2 (T)",
      "data": {"name": "magnetite2"},
      "transform": [{"fold": ["S1","S10","S5","S12","S2","S7","S3"], "as": ["serie", "reflectance"]}],
      "mark": "line",
      "encoding": {
        "x": {"field": "wl", "type": "quantitative", "scale": {"domain": [400, 800], "nice": false, "zero": false}, "axis": {"values": [400,450,500,550,600,650,700,750,800], "title": "Longueur d'onde (en nm)"}},
        "y": {"field": "reflectance", "type": "quantitative", "scale": {"domain": [0, 100], "nice": false}, "axis": {"values": [0,10,20,30,40,50,60,70,80,90,100], "title": "Réflectance (en %)"}},
        "color": {"field": "serie", "type": "nominal", "legend": null}
      }
    },
    {
      "title": "Rutile (T)",
      "data": {"name": "rutile"},
      "transform": [{"fold": ["S6","S12","S1","S7","S2","S14","S8","S15"], "as": ["serie", "reflectance"]}],
      "mark": "line",
      "encoding": {
        "x": {"field": "wl", "type": "quantitative", "scale": {"domain": [400, 800], "nice": false, "zero": false}, "axis": {"values": [400,450,500,550,600,650,700,750,800], "title": "Longueur d'onde (en nm)"}},
        "y": {"field": "reflectance", "type": "quantitative", "scale": {"domain": [0, 100], "nice": false}, "axis": {"values": [0,10,20,30,40,50,60,70,80,90,100], "title": "Réflectance (en %)"}},
        "color": {"field": "serie", "type": "nominal", "legend": null}
      }
    },
    {
      "title": "Chromite (R)",
      "data": {"name": "chromite"},
      "transform": [{"fold": ["S14","S3","S2","S4","S5","S13","S1"], "as": ["serie", "reflectance"]}],
      "mark": "line",
      "encoding": {
        "x": {"field": "wl", "type": "quantitative", "scale": {"domain": [400, 800], "nice": false, "zero": false}, "axis": {"values": [400,450,500,550,600,650,700,750,800], "title": "Longueur d'onde (en nm)"}},
        "y": {"field": "reflectance", "type": "quantitative", "scale": {"domain": [0, 100], "nice": false}, "axis": {"values": [0,10,20,30,40,50,60,70,80,90,100], "title": "Réflectance (en %)"}},
        "color": {"field": "serie", "type": "nominal", "legend": null}
      }
    },
    {
      "title": "Pyrrhotite (R)",
      "data": {"name": "pyrrhotite"},
      "transform": [{"fold": ["S13","S3","S6","S8","S11","S12","S2","S4","S9"], "as": ["serie", "reflectance"]}],
      "mark": "line",
      "encoding": {
        "x": {"field": "wl", "type": "quantitative", "scale": {"domain": [400, 800], "nice": false, "zero": false}, "axis": {"values": [400,450,500,550,600,650,700,750,800], "title": "Longueur d'onde (en nm)"}},
        "y": {"field": "reflectance", "type": "quantitative", "scale": {"domain": [0, 100], "nice": false}, "axis": {"values": [0,10,20,30,40,50,60,70,80,90,100], "title": "Réflectance (en %)"}},
        "color": {"field": "serie", "type": "nominal", "legend": null}
      }
    },
    {
      "title": "Bornite (R)",
      "data": {"name": "bornite"},
      "transform": [{"fold": ["S1","S14","S7","S4","S3","S13","S8","S6","S10"], "as": ["serie", "reflectance"]}],
      "mark": "line",
      "encoding": {
        "x": {"field": "wl", "type": "quantitative", "scale": {"domain": [400, 800], "nice": false, "zero": false}, "axis": {"values": [400,450,500,550,600,650,700,750,800], "title": "Longueur d'onde (en nm)"}},
        "y": {"field": "reflectance", "type": "quantitative", "scale": {"domain": [0, 100], "nice": false}, "axis": {"values": [0,10,20,30,40,50,60,70,80,90,100], "title": "Réflectance (en %)"}},
        "color": {"field": "serie", "type": "nominal", "legend": null}
      }
    },
    {
      "title": "Chalcopyrite 1 (S)",
      "data": {"name": "chalcopyrite1"},
      "transform": [{"fold": ["S5","S1","S12","S6","S2","S14","S3"], "as": ["serie", "reflectance"]}],
      "mark": "line",
      "encoding": {
        "x": {"field": "wl", "type": "quantitative", "scale": {"domain": [400, 800], "nice": false, "zero": false}, "axis": {"values": [400,450,500,550,600,650,700,750,800], "title": "Longueur d'onde (en nm)"}},
        "y": {"field": "reflectance", "type": "quantitative", "scale": {"domain": [0, 100], "nice": false}, "axis": {"values": [0,10,20,30,40,50,60,70,80,90,100], "title": "Réflectance (en %)"}},
        "color": {"field": "serie", "type": "nominal", "legend": null}
      }
    },
    {
      "title": "Chalcopyrite 2 (R)",
      "data": {"name": "chalcopyrite2"},
      "transform": [{"fold": ["S8","S13","S9","S10","S5","S7","S4","S3","S11","S1","S6","S2","S12","S14"], "as": ["serie", "reflectance"]}],
      "mark": "line",
      "encoding": {
        "x": {"field": "wl", "type": "quantitative", "scale": {"domain": [400, 800], "nice": false, "zero": false}, "axis": {"values": [400,450,500,550,600,650,700,750,800], "title": "Longueur d'onde (en nm)"}},
        "y": {"field": "reflectance", "type": "quantitative", "scale": {"domain": [0, 100], "nice": false}, "axis": {"values": [0,10,20,30,40,50,60,70,80,90,100], "title": "Réflectance (en %)"}},
        "color": {"field": "serie", "type": "nominal", "legend": null}
      }
    }
  ]
}
